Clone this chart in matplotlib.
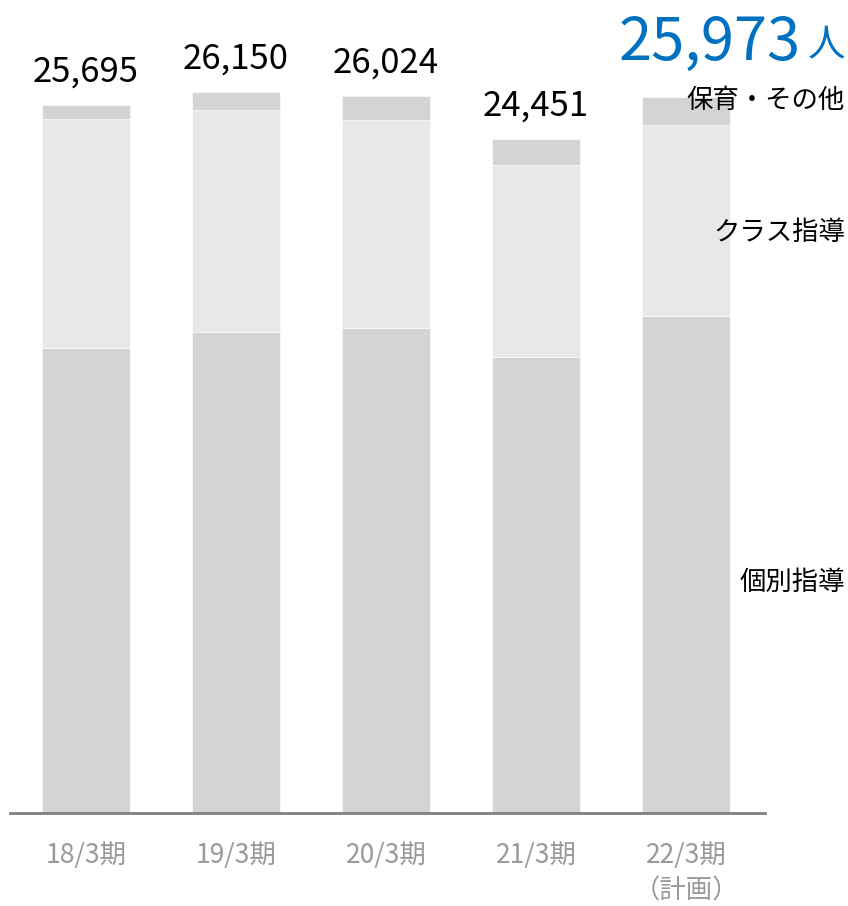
import matplotlib.pyplot as plt

plt.rcParams['font.family'] = ['Noto Sans CJK JP', 'DejaVu Sans']

periods = ['18/3期', '19/3期', '20/3期', '21/3期', '22/3期\n（計画）']
individual = [16878, 17459, 17604, 16551, 18040]
class_guid = [8312, 8058, 7550, 6970, 6933]
other = [505, 633, 870, 930, 1000]
totals = [25695, 26150, 26024, 24451, 25973]

c_dark = '#d4d4d4'
c_light = '#e8e8e8'

fig = plt.figure(figsize=(8.48, 9.06), dpi=100)
ax = fig.add_axes([10 / 848, 93 / 906, 755 / 848, 813 / 906])

x = list(range(len(periods)))
w = 0.587
ax.bar(x, individual, width=w, color=c_dark, edgecolor='white', linewidth=0.4)
bottom2 = individual
ax.bar(x, class_guid, width=w, bottom=bottom2, color=c_light, edgecolor='white', linewidth=0.4)
bottom3 = [a + b for a, b in zip(individual, class_guid)]
ax.bar(x, other, width=w, bottom=bottom3, color=c_dark, edgecolor='white', linewidth=0.4)

ax.set_xlim(-0.5067, 4.5267)
ax.set_ylim(0, 29500)

for s in ['top', 'right', 'left']:
    ax.spines[s].set_visible(False)
ax.spines['bottom'].set_color('#808080')
ax.spines['bottom'].set_linewidth(2)
ax.set_yticks([])
ax.set_xticks(x)
ax.set_xticklabels(periods, fontsize=19, color='#999999', linespacing=1.4, va='top')
ax.tick_params(axis='x', length=0, pad=21)

# totals above bars (last one shown big in blue)
for i in range(len(totals) - 1):
    ax.annotate(f'{totals[i]:,}', (x[i], totals[i]), xytext=(0, 11),
                textcoords='offset points', ha='center', va='bottom',
                fontsize=25, color='black')

fig.text(801 / 848, 1 - 43 / 906, f'{totals[-1]:,}', ha='right', va='center',
         fontsize=43, color='#0070c0')
fig.text(845 / 848, 1 - 46 / 906, '人', ha='right', va='center',
         fontsize=27, color='#0070c0')

ax.text(845 / 848, 1 - 100 / 906, '保育・その他', transform=fig.transFigure,
        ha='right', va='center', fontsize=19, color='black')
ax.text(845 / 848, 1 - 232 / 906, 'クラス指導', transform=fig.transFigure,
        ha='right', va='center', fontsize=19, color='black')
ax.text(845 / 848, 1 - 582 / 906, '個別指導', transform=fig.transFigure,
        ha='right', va='center', fontsize=19, color='black')

fig.savefig('out.png', dpi=100)
